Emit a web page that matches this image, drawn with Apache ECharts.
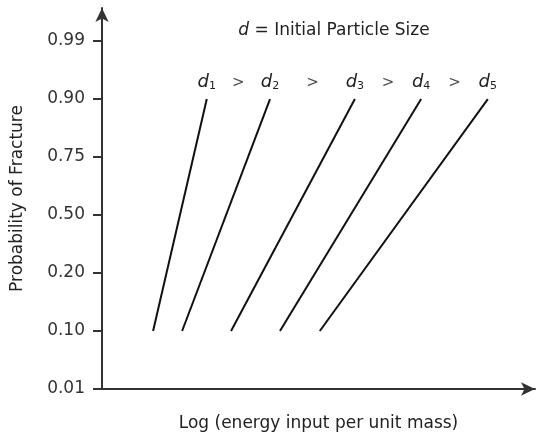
<!DOCTYPE html>
<html>
<head>
<meta charset="utf-8" />
<title>Probability of Fracture</title>
<script src="https://cdn.jsdelivr.net/npm/echarts@6/dist/echarts.min.js"></script>
<style>
  html, body { margin: 0; padding: 0; background: #fff; }
  #chart { width: 539px; height: 436px; }
</style>
</head>
<body>
<div id="chart"></div>
<script>
// y tick labels (equally spaced probability positions)
var probLabels = ['0.01', '0.10', '0.20', '0.50', '0.75', '0.90', '0.99'];
// each line runs from P=0.10 to P=0.90
var startProb = '0.10';
var endProb = '0.90';
// log energy (arbitrary units) at the bottom and top of each line
var sizeNames = ['1', '2', '3', '4', '5'];
var xStart = [11.8, 18.5, 29.8, 41.1, 50.3];
var xEnd = [24.2, 38.8, 58.4, 73.7, 89.1];

var font = 'DejaVu Sans, sans-serif';
var yLo = probLabels.indexOf(startProb);
var yHi = probLabels.indexOf(endProb);

var series = [];
for (var i = 0; i < sizeNames.length; i++) {
    series.push({
        type: 'line',
        data: [[xStart[i], yLo], [xEnd[i], yHi]],
        symbol: 'none',
        lineStyle: { color: '#111', width: 2 },
        silent: true,
        markPoint: {
            symbol: 'circle', symbolSize: 0,
            data: [{ coord: [xEnd[i], yHi] }],
            label: {
                show: true, position: 'top', distance: 7,
                formatter: '{d|d}{s|' + sizeNames[i] + '}',
                rich: {
                    d: { fontFamily: font, fontStyle: 'italic', fontSize: 18, color: '#222' },
                    s: { fontFamily: font, fontSize: 11, color: '#222', verticalAlign: 'bottom', padding: [8, 0, 0, 0] }
                }
            }
        }
    });
}
// ">" signs halfway between neighbouring labels
var gtData = [];
for (var j = 0; j < xEnd.length - 1; j++) {
    gtData.push([(xEnd[j] + xEnd[j + 1]) / 2, yHi]);
}
series.push({
    type: 'scatter',
    data: gtData,
    symbolSize: 0,
    silent: true,
    label: {
        show: true, position: 'top', distance: 8,
        formatter: '>',
        fontFamily: font, fontSize: 15, color: '#222'
    }
});

var chart = echarts.init(document.getElementById('chart'));
chart.setOption({
    animation: false,
    title: {
        left: 329, top: 17, textAlign: 'center',
        text: '{i|d} = Initial Particle Size',
        textStyle: {
            fontFamily: font, fontSize: 17, fontWeight: 'normal', color: '#222',
            rich: {
                i: { fontFamily: font, fontStyle: 'italic', fontSize: 17, color: '#222' }
            }
        }
    },
    grid: { left: 102, right: 4, top: 8, bottom: 47, outerBoundsMode: 'none', containLabel: false },
    xAxis: {
        type: 'value',
        min: 0, max: 100,
        name: 'Log (energy input per unit mass)',
        nameLocation: 'middle',
        nameGap: 26,
        nameTextStyle: { fontFamily: font, fontSize: 17, color: '#222' },
        axisLine: { lineStyle: { color: '#333', width: 2 }, symbol: ['none', 'arrow'], symbolSize: [10, 14] },
        axisTick: { show: false },
        axisLabel: { show: false },
        splitLine: { show: false }
    },
    yAxis: {
        type: 'value',
        min: 0, max: 6.57,
        name: 'Probability of Fracture',
        nameLocation: 'middle',
        nameGap: 76,
        nameTextStyle: { fontFamily: font, fontSize: 17, color: '#222' },
        axisLine: { show: true, lineStyle: { color: '#333', width: 2 }, symbol: ['none', 'arrow'], symbolSize: [10, 14] },
        axisTick: {
            show: true, length: 9, lineStyle: { color: '#333', width: 2 },
            customValues: probLabels.map(function (p, k) { return k; })
        },
        axisLabel: {
            fontFamily: font, fontSize: 17, color: '#333', margin: 17,
            customValues: probLabels.map(function (p, k) { return k; }),
            formatter: function (v) { return probLabels[Math.round(v)]; }
        },
        splitLine: { show: false }
    },
    series: series
});
</script>
</body>
</html>
